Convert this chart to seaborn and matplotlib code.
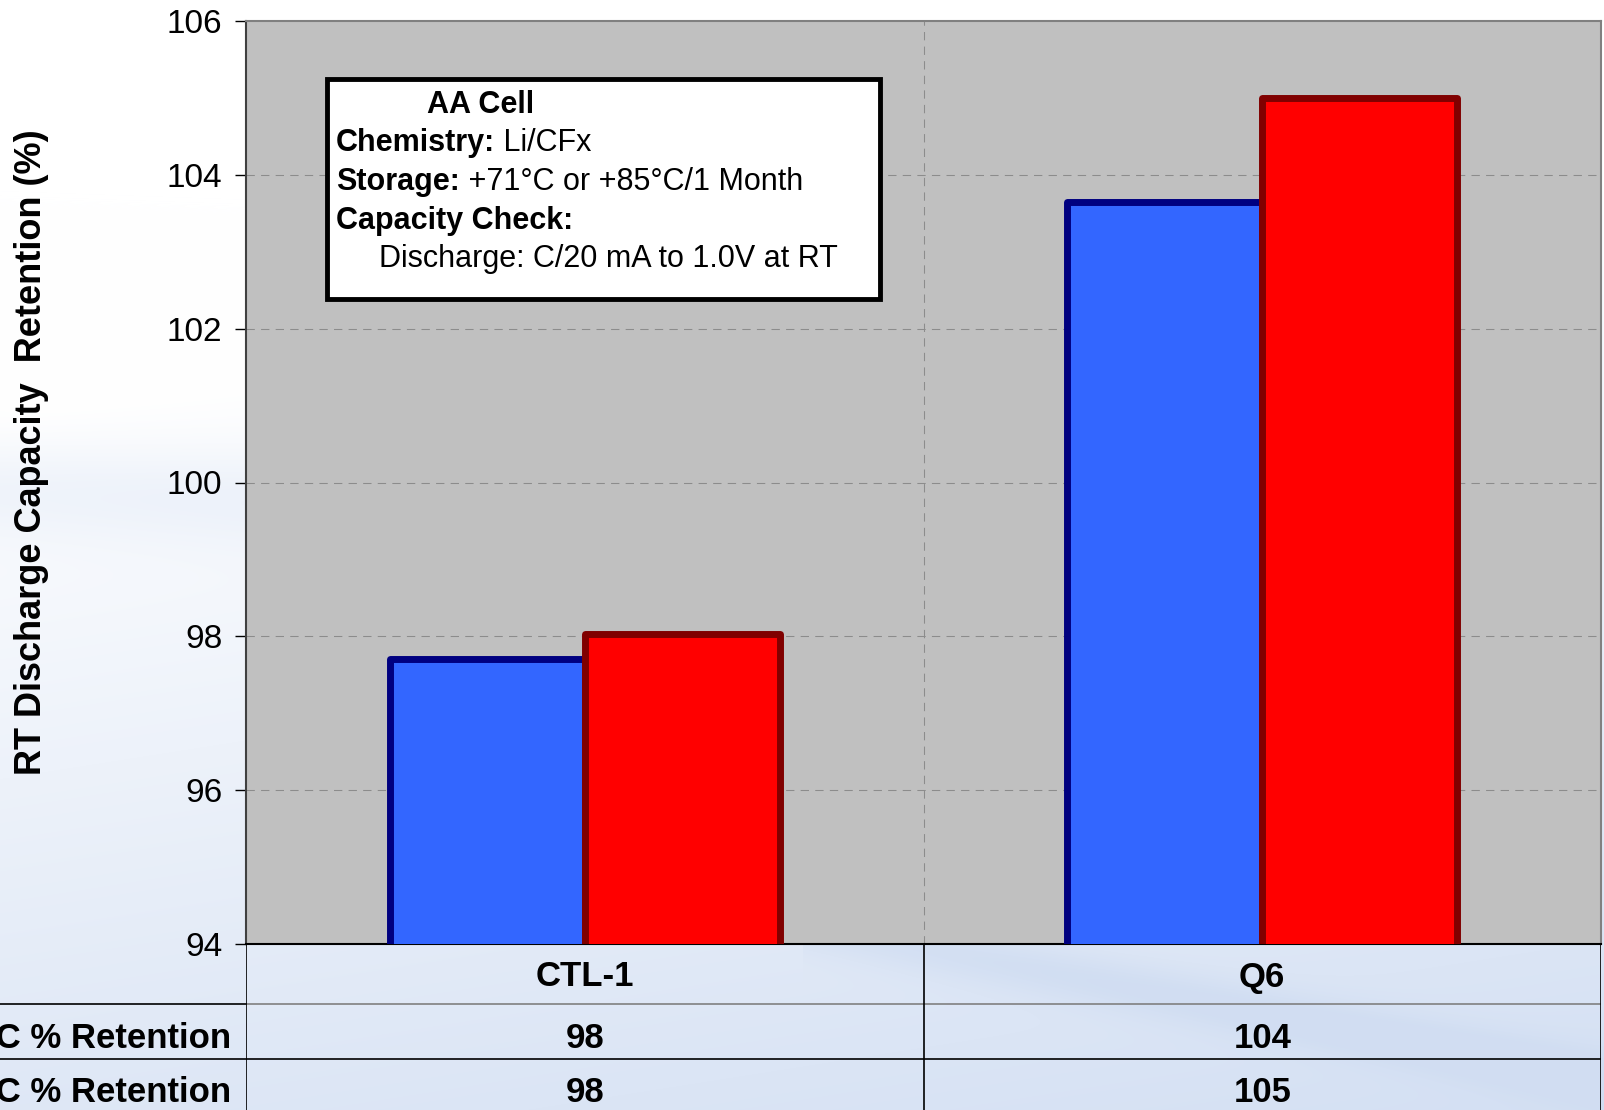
import numpy as np
import pandas as pd
import matplotlib
matplotlib.use("Agg")
import matplotlib.pyplot as plt
import matplotlib.transforms as mtransforms
from matplotlib.patches import Rectangle
from matplotlib.text import Annotation
import seaborn as sns

# ---- data ----
cells = ["CTL-1", "Q6"]
storage = ["+71°C % Retention", "+85°C % Retention"]
retention_71 = [97.7, 103.65]
retention_85 = [98.03, 105.0]
y_ticks = [94, 96, 98, 100, 102, 104, 106]

fill_colors = ["#3366FF", "#FF0000"]
edge_colors = ["#000080", "#800000"]

df = pd.DataFrame({
    "cell": cells * 2,
    "storage": [storage[0]] * len(cells) + [storage[1]] * len(cells),
    "retention": retention_71 + retention_85,
})

sns.set_style("white")
plt.rcParams["font.family"] = ["Liberation Sans", "DejaVu Sans"]
plt.rcParams["text.color"] = "black"
plt.rcParams["ytick.color"] = "black"
plt.rcParams["ytick.labelcolor"] = "black"

W, H = 1604, 1110
fig = plt.figure(figsize=(W / 100, H / 100), dpi=100)

# soft blue backdrop
bg = fig.add_axes([0, 0, 1, 1], zorder=-5)
yy, xx = np.mgrid[0:H, 0:W]
u = xx / W
v = yy / H
t = np.clip(0.25 * u + 1.1 * (v - 0.38), 0, 1) ** 0.9
streak = np.exp(-((v - (0.86 + 0.28 * (u - 0.6))) ** 2) / 0.0006) * (u > 0.5) * 0.25
swoosh = np.exp(-((v - (0.44 + 0.05 * u)) ** 2) / 0.002) * (u < 0.2) * 0.25
t = np.clip(t + streak + swoosh, 0, 1)
c0 = np.array([1.0, 1.0, 1.0])
c1 = np.array([0.82, 0.87, 0.95])
img = c0[None, None, :] * (1 - t[..., None]) + c1[None, None, :] * t[..., None]
bg.imshow(img, aspect="auto", extent=[0, 1, 0, 1], origin="upper")
bg.axis("off")

# main plot area
left, right = 246 / W, 1601 / W
top, bottom = 1 - 21 / H, 1 - 944 / H
ax = fig.add_axes([left, bottom, right - left, top - bottom], zorder=1)
ax.set_facecolor("#C0C0C0")

sns.barplot(data=df, x="cell", y="retention", hue="storage",
            palette=fill_colors, width=0.576, gap=0, saturation=1,
            legend=False, ax=ax, zorder=3)
for cont, ec in zip(ax.containers, edge_colors):
    for p in cont:
        p.set_edgecolor(ec)
        p.set_linewidth(5)
        p.set_joinstyle("round")

ax.set_xlim(-0.5, 1.5)
ax.set_ylim(94, 106)
ax.set_yticks(y_ticks)
ax.set_xticks([])
ax.set_xlabel("")
ax.set_ylabel("")
ax.tick_params(axis="y", labelsize=24, length=8, width=1, color="black",
               labelcolor="black", direction="out", left=True, pad=9)
for ty in y_ticks[1:-1]:
    ax.axhline(ty, color="#8C8C8C", lw=0.75, ls=(0, (8, 6)), zorder=1)
ax.axvline(0.5, color="#8C8C8C", lw=0.75, ls=(0, (8, 6)), zorder=1)
ax.spines["left"].set_color("#404040")
ax.spines["left"].set_linewidth(1.5)
ax.spines["top"].set_color("#808080")
ax.spines["top"].set_linewidth(1.5)
ax.spines["right"].set_color("#808080")
ax.spines["right"].set_linewidth(1.5)
ax.spines["bottom"].set_color("black")
ax.spines["bottom"].set_linewidth(1.5)

fig.text(32 / W, 1 - 452 / H, "RT Discharge Capacity  Retention (%)",
         rotation=90, ha="center", va="center", fontsize=26, fontweight="bold",
         color="black")

# annotation box
box_l, box_r, box_t, box_b = 327, 880, 79, 299
fig.add_artist(Rectangle((box_l / W, 1 - box_b / H), (box_r - box_l) / W,
                         (box_b - box_t) / H, transform=fig.transFigure,
                         facecolor="white", edgecolor="black", lw=3.5,
                         zorder=5))
fs_box = 22
line_y = [105, 143, 182, 221, 259]
fig.text(427 / W, 1 - line_y[0] / H, "AA Cell", fontsize=fs_box,
         fontweight="bold", va="center", ha="left", zorder=6)
pairs = [("Chemistry:", " Li/CFx"), ("Storage:", " +71°C or +85°C/1 Month"),
         ("Capacity Check:", "")]
for (b, r), ly in zip(pairs, line_y[1:4]):
    tb = fig.text(336 / W, 1 - ly / H, b, fontsize=fs_box, fontweight="bold",
                  va="center", ha="left", zorder=6)
    if r:
        fig.add_artist(Annotation(r, xy=(1, 0), xycoords=tb,
                                  va="bottom", ha="left", color="black",
                                  fontsize=fs_box, zorder=6))
fig.text(379 / W, 1 - line_y[4] / H, "Discharge: C/20 mA to 1.0V at RT",
         fontsize=fs_box, va="center", ha="left", zorder=6)

# data table under the plot
tax = fig.add_axes([left, 0, right - left, bottom], zorder=1)
tax.set_xlim(-0.5, 1.5)
tax.set_ylim(0, 1)
tax.axis("off")
y_hdr_line = (H - 1004) / (H - 944)
y_row_line = (H - 1059) / (H - 944)
tax.axhline(y_hdr_line, color="#808080", lw=1.2)
tax.axhline(y_row_line, color="black", lw=1.2)
for xv in [-0.5, 0.5, 1.5]:
    tax.axvline(xv, color="black", lw=1.2)

y_hdr = (H - 977) / (H - 944)
y_r1 = (H - 1039) / (H - 944)
y_r2 = (H - 1092) / (H - 944)
fs_tbl = 25
for i, c in enumerate(cells):
    tax.text(i, y_hdr, c, ha="center", va="center", fontsize=fs_tbl,
             fontweight="bold")
    tax.text(i, y_r1, f"{retention_71[i]:.0f}", ha="center", va="center",
             fontsize=fs_tbl, fontweight="bold")
    tax.text(i, y_r2, f"{retention_85[i]:.0f}", ha="center", va="center",
             fontsize=fs_tbl, fontweight="bold")

lab_tr = mtransforms.blended_transform_factory(fig.transFigure, tax.transAxes)
for lbl, yv in zip(storage, [y_r1, y_r2]):
    tax.text(231 / W, yv, lbl, transform=lab_tr, ha="right", va="center",
             fontsize=fs_tbl, fontweight="bold", clip_on=False)
# row lines reaching the left edge for the label rows
for yv in [y_hdr_line, y_row_line]:
    tax.plot([0, left], [yv, yv], transform=lab_tr, color="black", lw=1.2,
             clip_on=False)

fig.savefig("out.png", dpi=100)
